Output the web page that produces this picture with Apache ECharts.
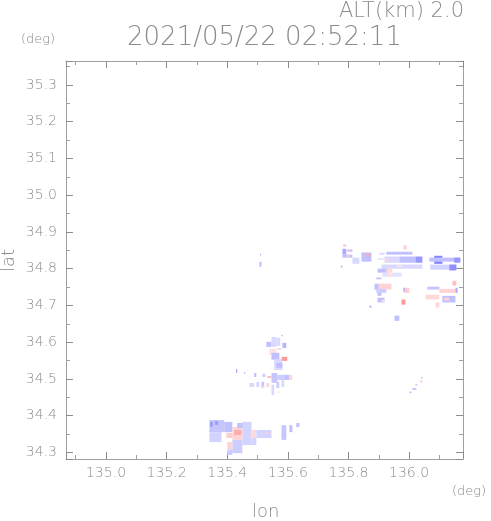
<!DOCTYPE html>
<html>
<head>
<meta charset="utf-8">
<script src="https://cdn.jsdelivr.net/npm/echarts@6/dist/echarts.min.js"></script>
<style>html,body{margin:0;padding:0;background:#fff}#c{width:491px;height:521px}</style>
</head>
<body>
<div id="c"></div>
<script>
// Axis ranges (deg)
const lonRange = [134.868, 136.178];
const latRange = [34.282, 35.365];
const titleText = '2021/05/22 02:52:11';
const altText = 'ALT(km) 2.0';

// cells: [lonWest, lonEast, latSouth, latNorth, value] (value <0 blue, >0 red)
const cellsNorthEast = [
  [135.982,135.992,34.852,34.863, 0.4],
  [135.925,136.011,34.838,34.846,-0.5],
  [135.919,135.968,34.816,34.833,-0.3],
  [135.968,136.021,34.816,34.833,-0.5],
  [136.021,136.044,34.816,34.833,-0.7],
  [135.925,135.935,34.819,34.827, 0.3],
  [136.083,136.110,34.813,34.835,-0.8],
  [136.067,136.169,34.819,34.830,-0.5],
  [136.149,136.169,34.816,34.830,-0.7],
  [135.909,136.044,34.800,34.811,-0.3],
  [135.961,135.975,34.805,34.811, 0.2],
  [136.070,136.156,34.797,34.811,-0.35],
  [136.133,136.156,34.795,34.811,-0.75],
  [136.143,136.156,34.754,34.767, 0.5],
  [135.984,136.001,34.734,34.748, 0.4],
  [135.981,135.986,34.737,34.748,-0.6],
  [136.060,136.100,34.743,34.751,-0.45],
  [136.100,136.153,34.734,34.745, 0.35],
  [136.153,136.160,34.734,34.748,-0.6],
  [136.054,136.100,34.716,34.729, 0.3],
  [136.110,136.153,34.708,34.726,-0.5],
  [136.116,136.133,34.713,34.721, 0.35],
  [135.975,135.988,34.702,34.716, 0.7],
  [136.087,136.100,34.694,34.708, 0.3],
  [135.959,135.963,34.658,34.666,-0.6],
  [135.783,135.793,34.861,34.865, 0.6],
  [135.780,135.793,34.838,34.854,-0.6],
  [135.780,135.813,34.830,34.838,-0.5],
  [135.796,135.803,34.830,34.838, 0.4],
  [135.796,135.813,34.846,34.852,-0.5],
  [135.800,135.806,34.846,34.852, 0.5],
  [135.813,135.836,34.813,34.830,-0.3],
  [135.843,135.876,34.819,34.844,-0.5],
  [135.859,135.869,34.833,34.841, 0.6],
  [135.775,135.780,34.803,34.808,-0.6],
  [135.902,135.919,34.838,34.843,-0.3],
  [135.896,135.919,34.824,34.829,-0.2],
  [135.896,135.929,34.789,34.800,-0.5],
  [135.925,135.945,34.789,34.800, 0.3],
  [135.912,135.975,34.778,34.789,-0.25],
  [135.929,135.945,34.778,34.789, 0.25],
  [135.892,135.909,34.771,34.776,-0.5],
  [135.886,135.900,34.743,34.759,-0.5],
  [135.900,135.942,34.743,34.759, 0.35],
  [135.892,135.925,34.734,34.745,-0.4],
  [135.896,135.909,34.726,34.734,-0.5],
  [135.896,135.919,34.708,34.721,-0.5],
  [135.909,135.919,34.708,34.716, 0.3],
  [135.869,135.876,34.694,34.699,-0.6],
  [135.952,135.968,34.658,34.672,-0.5]
];
const cellsIsolated = [
  [135.508,135.512,34.836,34.840,-0.6],
  [135.506,135.513,34.805,34.819,-0.5],
  [136.040,136.044,34.501,34.505,-0.6],
  [136.037,136.044,34.489,34.497, 0.3],
  [136.021,136.027,34.482,34.486,-0.5],
  [136.011,136.024,34.470,34.475,-0.5],
  [136.001,136.008,34.462,34.465,-0.6]
];
const cellsCentral = [
  [135.529,135.546,34.587,34.601,-0.5],
  [135.546,135.562,34.587,34.614,-0.3],
  [135.562,135.575,34.590,34.612,-0.3],
  [135.579,135.583,34.616,34.620,-0.6],
  [135.582,135.595,34.584,34.598,-0.55],
  [135.565,135.579,34.579,34.584, 0.3],
  [135.539,135.562,34.565,34.582, 0.25],
  [135.546,135.572,34.552,34.571,-0.5],
  [135.579,135.598,34.549,34.560, 0.7],
  [135.555,135.582,34.524,34.554,-0.3],
  [135.562,135.582,34.530,34.543,-0.5],
  [135.429,135.433,34.516,34.527,-0.6],
  [135.455,135.459,34.514,34.518,-0.6],
  [135.489,135.496,34.505,34.516,-0.5],
  [135.516,135.526,34.505,34.514,-0.4],
  [135.546,135.565,34.489,34.516,-0.45],
  [135.565,135.588,34.497,34.511,-0.4],
  [135.588,135.605,34.497,34.511,-0.5],
  [135.605,135.615,34.497,34.511, 0.3],
  [135.532,135.546,34.503,34.507, 0.6],
  [135.473,135.489,34.478,34.489,-0.3],
  [135.496,135.506,34.478,34.492,-0.3],
  [135.513,135.522,34.475,34.492,-0.45],
  [135.513,135.522,34.475,34.480, 0.3],
  [135.529,135.539,34.478,34.489, 0.3],
  [135.546,135.555,34.456,34.484,-0.3],
  [135.562,135.572,34.475,34.492,-0.4],
  [135.579,135.588,34.478,34.497,-0.3],
  [135.567,135.572,34.462,34.466, 0.4]
];
const cellsSouth = [
  [135.341,135.390,34.355,34.388,-0.45],
  [135.341,135.381,34.328,34.355,-0.35],
  [135.344,135.352,34.370,34.383,-0.7],
  [135.360,135.370,34.375,34.385,-0.7],
  [135.390,135.417,34.355,34.383,-0.5],
  [135.397,135.417,34.339,34.353, 0.4],
  [135.400,135.417,34.308,34.328, 0.35],
  [135.400,135.417,34.293,34.308,-0.4],
  [135.417,135.450,34.334,34.369, 0.35],
  [135.417,135.450,34.298,34.334,-0.4],
  [135.423,135.447,34.347,34.361, 0.6],
  [135.433,135.456,34.366,34.380,-0.5],
  [135.450,135.480,34.320,34.383,-0.35],
  [135.480,135.496,34.339,34.361, 0.3],
  [135.480,135.496,34.320,34.339,-0.35],
  [135.496,135.546,34.339,34.361,-0.35],
  [135.529,135.539,34.350,34.355, 0.4],
  [135.579,135.595,34.334,34.374,-0.45],
  [135.605,135.615,34.355,34.374,-0.5],
  [135.628,135.638,34.369,34.380,-0.5]
];

const allCells = [].concat(cellsNorthEast, cellsIsolated, cellsCentral, cellsSouth);

const gray = '#8c8c8c';
const fontFam = "'DejaVu Sans', sans-serif";

function axisCommon(extra) {
  return Object.assign({
    type: 'value',
    scale: true,
    axisLine: { show: true, onZero: false, lineStyle: { color: '#a0a0a0', width: 1 } },
    axisTick: { show: true, inside: true, length: 7, lineStyle: { color: gray } },
    minorTick: { show: true, splitNumber: 2, length: 4, lineStyle: { color: '#a0a0a0' } },
    splitLine: { show: false },
    minorSplitLine: { show: false }
  }, extra);
}

const chart = echarts.init(document.getElementById('c'), null, { renderer: 'canvas' });
chart.setOption({
  animation: false,
  backgroundColor: '#ffffff',
  grid: { left: 66, top: 61, width: 397, height: 398, containLabel: false },
  visualMap: {
    show: false, type: 'continuous', dimension: 4, min: -1, max: 1,
    inRange: { color: ['#5c5cff', '#c0c0ff', '#ffffff', '#ffc0c0', '#ff5c5c'] }
  },
  xAxis: [
    axisCommon({ position: 'bottom', min: lonRange[0], max: lonRange[1], splitNumber: 7,
      axisLabel: { show: true, showMinLabel: false, showMaxLabel: false, margin: 7,
        color: gray, fontSize: 14, fontWeight: 200, fontFamily: fontFam, formatter: v => v.toFixed(1) } }),
    axisCommon({ position: 'top', min: lonRange[0], max: lonRange[1], splitNumber: 7,
      axisLabel: { show: false } })
  ],
  yAxis: [
    axisCommon({ position: 'left', min: latRange[0], max: latRange[1], splitNumber: 10,
      axisLabel: { show: true, showMinLabel: false, showMaxLabel: false, margin: 9,
        color: gray, fontSize: 14, fontWeight: 200, fontFamily: fontFam, formatter: v => v.toFixed(1) } }),
    axisCommon({ position: 'right', min: latRange[0], max: latRange[1], splitNumber: 10,
      axisLabel: { show: false } })
  ],
  series: [{
    type: 'custom',
    xAxisIndex: 0, yAxisIndex: 0,
    clip: true,
    encode: { x: [0, 1], y: [2, 3] },
    data: allCells,
    renderItem: function (params, api) {
      const p0 = api.coord([api.value(0), api.value(3)]);
      const p1 = api.coord([api.value(1), api.value(2)]);
      return {
        type: 'rect',
        shape: { x: p0[0], y: p0[1], width: Math.max(1, p1[0] - p0[0]), height: Math.max(1, p1[1] - p0[1]) },
        style: { fill: api.visual('color') }
      };
    }
  }],
  graphic: [
    { type: 'text', right: 27, top: 1, style: { text: altText, fill: gray, font: "200 21px 'DejaVu Sans', sans-serif" } },
    { type: 'text', left: 127, top: 25, style: { text: titleText, fill: gray, font: "200 26px 'DejaVu Sans', sans-serif" } },
    { type: 'text', left: 21, top: 33, style: { text: '(deg)', fill: gray, font: "200 13px 'DejaVu Sans', sans-serif" } },
    { type: 'text', left: 452, top: 485, style: { text: '(deg)', fill: gray, font: "200 13px 'DejaVu Sans', sans-serif" } },
    { type: 'text', left: 252, top: 503, style: { text: 'lon', fill: gray, font: "200 18px 'DejaVu Sans', sans-serif" } },
    { type: 'text', x: 0, y: 272, rotation: Math.PI / 2, style: { text: 'lat', fill: gray, font: "200 18px 'DejaVu Sans', sans-serif" } }
  ]
});
</script>
</body>
</html>
